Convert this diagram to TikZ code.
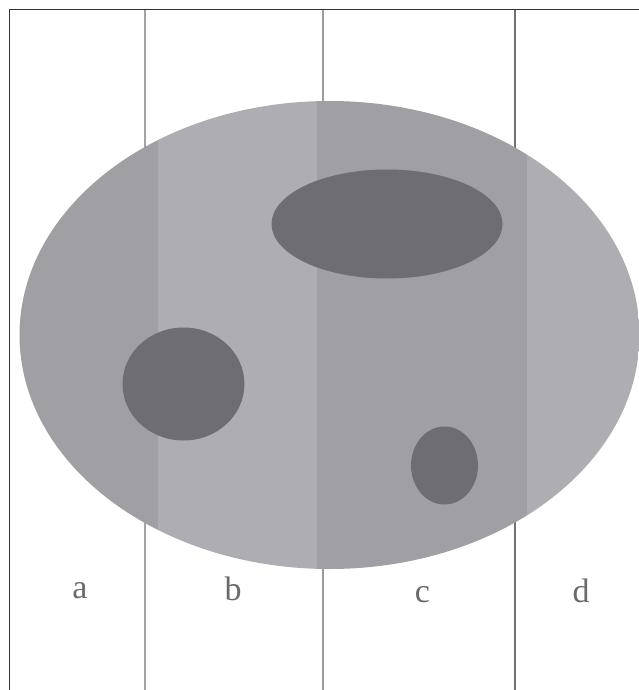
\documentclass[tikz,border=0pt]{standalone}
\usepackage{fontspec}
\setmainfont{Liberation Serif}
\definecolor{bandA}{HTML}{A0A0A4}
\definecolor{bandB}{HTML}{AEAEB2}
\definecolor{spot}{HTML}{6E6E72}
\definecolor{lineL}{HTML}{A4A4A8}
\definecolor{lineM}{HTML}{9C9CA0}
\definecolor{lineD}{HTML}{707076}
\definecolor{frame}{HTML}{333333}
\definecolor{lbl}{HTML}{6A6A6E}
\tikzset{
  divider/.style={line width=2pt},
  framel/.style={draw=frame, line width=1.5pt},
  lab/.style={text=lbl, font=\fontsize{34}{36}\selectfont, anchor=base, inner sep=0pt},
}
\begin{document}
\begin{tikzpicture}[x=1pt,y=-1pt]
\useasboundingbox (0,0) rectangle (639,690);
% frame
\draw[framel] (9.5,690) -- (9.5,9.5) -- (639,9.5);
% dividers
\draw[divider, lineL] (145,10) -- (145,690);
\draw[divider, lineM] (323,10) -- (323,690);
\draw[divider, lineD] (515,10) -- (515,690);
% big ellipse with bands
\begin{scope}
\clip (329.5,335) ellipse [x radius=310, y radius=234];
\fill[bandA] (0,90) rectangle (158,580);
\fill[bandB] (158,90) rectangle (317,580);
\fill[bandA] (317,90) rectangle (527,580);
\fill[bandB] (527,90) rectangle (650,580);
\end{scope}
% spots
\fill[spot] (387,224) ellipse [x radius=115.5, y radius=54.5];
\fill[spot] (183.5,384) ellipse [x radius=61, y radius=56.5];
\fill[spot] (444.5,465.5) ellipse [x radius=33.5, y radius=39];
% labels
\node[lab] (la) at (80,598) {a};
\node[lab] (lb) at (233,600) {b};
\node[lab] (lc) at (422.5,602) {c};
\node[lab] (ld) at (581,602) {d};
\end{tikzpicture}
\end{document}
